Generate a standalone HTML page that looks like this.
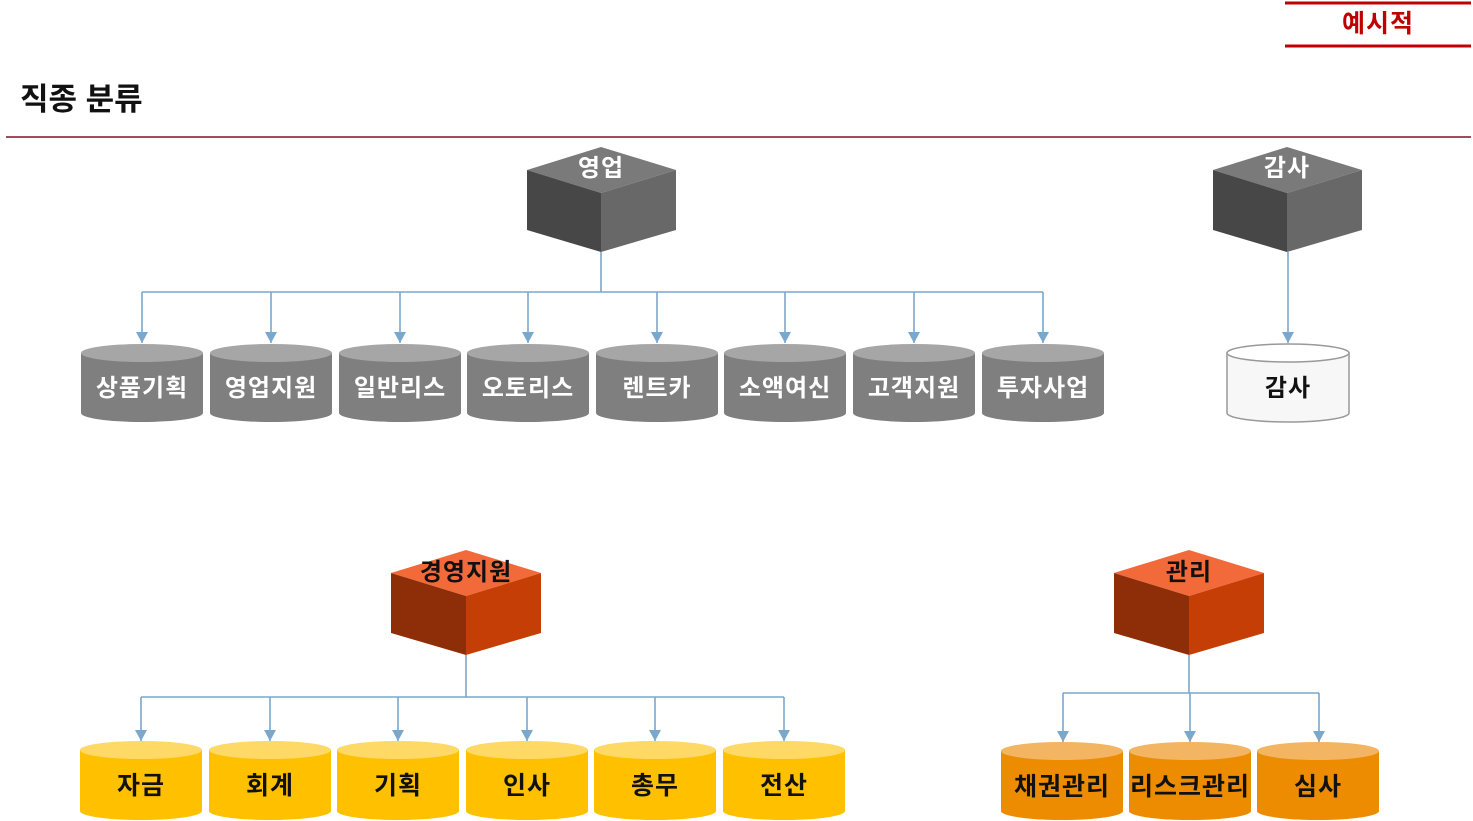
<!DOCTYPE html>
<html><head><meta charset="utf-8"><style>
html,body{margin:0;padding:0;background:#fff;}
svg{display:block;font-family:"Liberation Sans","Noto Sans CJK KR",sans-serif;font-weight:bold;}
</style></head><body>
<svg width="1473" height="821" viewBox="0 0 1473 821" xmlns="http://www.w3.org/2000/svg">
<defs>
<marker id="ar" markerWidth="12" markerHeight="12" refX="11" refY="6" orient="auto" markerUnits="userSpaceOnUse">
<path d="M0,0 L11,6 L0,12 Z" fill="#7aa7cc"/></marker>
</defs>
<!-- header -->
<line x1="1285" y1="3" x2="1471" y2="3" stroke="#c00000" stroke-width="3"/>
<line x1="1285" y1="46" x2="1471" y2="46" stroke="#c00000" stroke-width="3"/>
<text x="1378" y="32" font-size="25" fill="#c00000" text-anchor="middle" letter-spacing="1">예시적</text>
<text x="20" y="110" font-size="31" fill="#111">직종 분류</text>
<line x1="6" y1="137" x2="1471" y2="137" stroke="#a24a5e" stroke-width="2"/>

<!-- connectors -->
<g stroke="#7aa7cc" stroke-width="1.6" fill="none">
<path d="M601 252 V292 M142 292 H1043"/>
<path d="M142 292 V343" marker-end="url(#ar)"/><path d="M271 292 V343" marker-end="url(#ar)"/>
<path d="M400 292 V343" marker-end="url(#ar)"/><path d="M528 292 V343" marker-end="url(#ar)"/>
<path d="M657 292 V343" marker-end="url(#ar)"/><path d="M785 292 V343" marker-end="url(#ar)"/>
<path d="M914 292 V343" marker-end="url(#ar)"/><path d="M1043 292 V343" marker-end="url(#ar)"/>
<path d="M1288 252 V343" marker-end="url(#ar)"/>
<path d="M466 655 V697 M141 697 H784"/>
<path d="M141 697 V741" marker-end="url(#ar)"/><path d="M270 697 V741" marker-end="url(#ar)"/>
<path d="M398 697 V741" marker-end="url(#ar)"/><path d="M527 697 V741" marker-end="url(#ar)"/>
<path d="M655 697 V741" marker-end="url(#ar)"/><path d="M784 697 V741" marker-end="url(#ar)"/>
<path d="M1189 655 V693 M1063 693 H1319"/>
<path d="M1063 693 V742" marker-end="url(#ar)"/><path d="M1190 693 V742" marker-end="url(#ar)"/>
<path d="M1319 693 V742" marker-end="url(#ar)"/>
</g>

<!-- cubes -->
<g>
<polygon points="527,170 601,147 676,170 601,193" fill="#7a7a7a"/>
<polygon points="527,170 601,193 601,252 527,230" fill="#474747"/>
<polygon points="601,193 676,170 676,230 601,252" fill="#686868"/>
<text x="601" y="176" font-size="24" fill="#fff" text-anchor="middle" letter-spacing="1">영업</text>

<polygon points="1213,170 1287,147 1362,170 1287,193" fill="#7a7a7a"/>
<polygon points="1213,170 1287,193 1287,252 1213,230" fill="#474747"/>
<polygon points="1287,193 1362,170 1362,230 1287,252" fill="#686868"/>
<text x="1287" y="176" font-size="24" fill="#fff" text-anchor="middle" letter-spacing="1">감사</text>

<polygon points="391,573 466,550 541,573 466,596" fill="#f26a3a"/>
<polygon points="391,573 466,596 466,655 391,633" fill="#8e2e08"/>
<polygon points="466,596 541,573 541,633 466,655" fill="#c43e05"/>
<text x="466" y="580" font-size="24" fill="#111" text-anchor="middle" letter-spacing="1">경영지원</text>

<polygon points="1114,573 1189,550 1264,573 1189,596" fill="#f26a3a"/>
<polygon points="1114,573 1189,596 1189,655 1114,633" fill="#8e2e08"/>
<polygon points="1189,596 1264,573 1264,633 1189,655" fill="#c43e05"/>
<text x="1189" y="580" font-size="24" fill="#111" text-anchor="middle" letter-spacing="1">관리</text>
</g>

<!-- gray cylinders -->
<g fill="#7f7f7f">
<path d="M81 353 V413 A61 9 0 0 0 203 413 V353 Z"/><ellipse cx="142" cy="353" rx="61" ry="9" fill="#a6a6a6"/>
<path d="M210 353 V413 A61 9 0 0 0 332 413 V353 Z"/><ellipse cx="271" cy="353" rx="61" ry="9" fill="#a6a6a6"/>
<path d="M339 353 V413 A61 9 0 0 0 461 413 V353 Z"/><ellipse cx="400" cy="353" rx="61" ry="9" fill="#a6a6a6"/>
<path d="M467 353 V413 A61 9 0 0 0 589 413 V353 Z"/><ellipse cx="528" cy="353" rx="61" ry="9" fill="#a6a6a6"/>
<path d="M596 353 V413 A61 9 0 0 0 718 413 V353 Z"/><ellipse cx="657" cy="353" rx="61" ry="9" fill="#a6a6a6"/>
<path d="M724 353 V413 A61 9 0 0 0 846 413 V353 Z"/><ellipse cx="785" cy="353" rx="61" ry="9" fill="#a6a6a6"/>
<path d="M853 353 V413 A61 9 0 0 0 975 413 V353 Z"/><ellipse cx="914" cy="353" rx="61" ry="9" fill="#a6a6a6"/>
<path d="M982 353 V413 A61 9 0 0 0 1104 413 V353 Z"/><ellipse cx="1043" cy="353" rx="61" ry="9" fill="#a6a6a6"/>
</g>
<g font-size="24" fill="#fff" text-anchor="middle" letter-spacing="1">
<text x="142" y="396">상품기획</text><text x="271" y="396">영업지원</text>
<text x="400" y="396">일반리스</text><text x="528" y="396">오토리스</text>
<text x="657" y="396">렌트카</text><text x="785" y="396">소액여신</text>
<text x="914" y="396">고객지원</text><text x="1043" y="396">투자사업</text>
</g>
<path d="M1227 353 V413 A61 9 0 0 0 1349 413 V353 Z" fill="#f7f7f7" stroke="#999" stroke-width="1.5"/>
<ellipse cx="1288" cy="353" rx="61" ry="9" fill="#fff" stroke="#999" stroke-width="1.5"/>
<text x="1288" y="396" font-size="24" fill="#111" text-anchor="middle" letter-spacing="1">감사</text>

<!-- yellow cylinders -->
<g fill="#ffc000">
<path d="M80 750 V811 A61 9 0 0 0 202 811 V750 Z"/><ellipse cx="141" cy="750" rx="61" ry="9" fill="#ffd966"/>
<path d="M209 750 V811 A61 9 0 0 0 331 811 V750 Z"/><ellipse cx="270" cy="750" rx="61" ry="9" fill="#ffd966"/>
<path d="M337 750 V811 A61 9 0 0 0 459 811 V750 Z"/><ellipse cx="398" cy="750" rx="61" ry="9" fill="#ffd966"/>
<path d="M466 750 V811 A61 9 0 0 0 588 811 V750 Z"/><ellipse cx="527" cy="750" rx="61" ry="9" fill="#ffd966"/>
<path d="M594 750 V811 A61 9 0 0 0 716 811 V750 Z"/><ellipse cx="655" cy="750" rx="61" ry="9" fill="#ffd966"/>
<path d="M723 750 V811 A61 9 0 0 0 845 811 V750 Z"/><ellipse cx="784" cy="750" rx="61" ry="9" fill="#ffd966"/>
</g>
<g fill="#ed8c00">
<path d="M1001 751 V811 A61 9 0 0 0 1123 811 V751 Z"/><ellipse cx="1062" cy="751" rx="61" ry="9" fill="#f3b562"/>
<path d="M1129 751 V811 A61 9 0 0 0 1251 811 V751 Z"/><ellipse cx="1190" cy="751" rx="61" ry="9" fill="#f3b562"/>
<path d="M1257 751 V811 A61 9 0 0 0 1379 811 V751 Z"/><ellipse cx="1318" cy="751" rx="61" ry="9" fill="#f3b562"/>
</g>
<g font-size="25" fill="#111" text-anchor="middle" letter-spacing="1">
<text x="141" y="794">자금</text><text x="270" y="794">회계</text>
<text x="398" y="794">기획</text><text x="527" y="794">인사</text>
<text x="655" y="794">총무</text><text x="784" y="794">전산</text>
<text x="1062" y="795">채권관리</text><text x="1190" y="795">리스크관리</text>
<text x="1318" y="795">심사</text>
</g>
</svg>
</body></html>
